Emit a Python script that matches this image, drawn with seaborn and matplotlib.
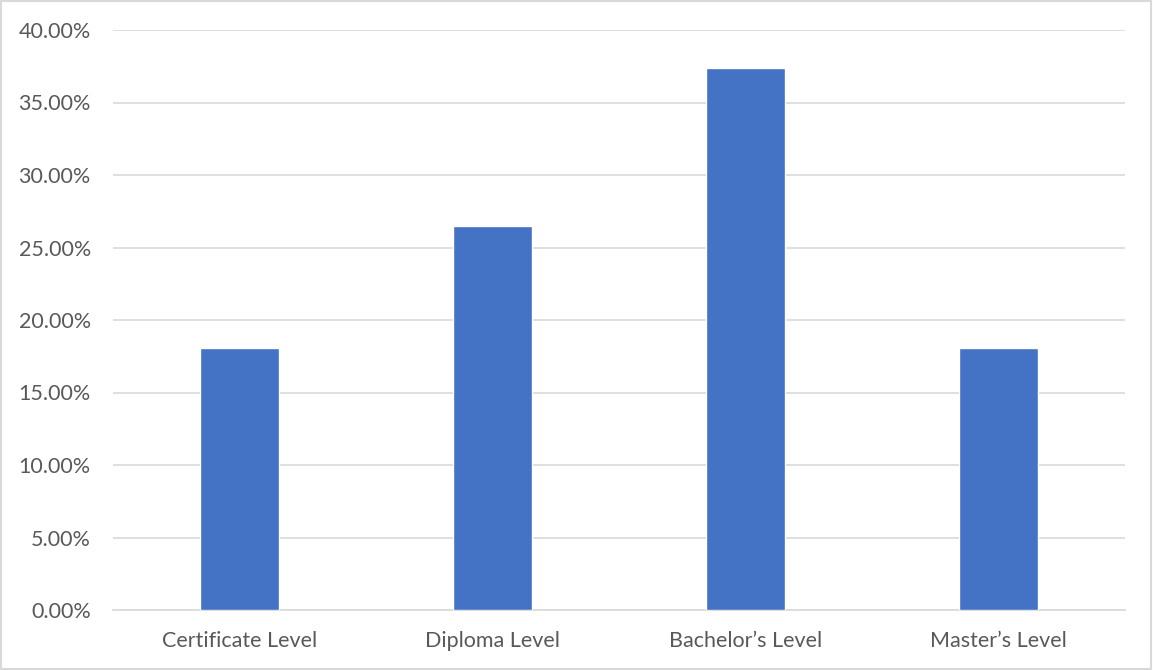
import matplotlib
matplotlib.use("Agg")
import matplotlib.pyplot as plt
from matplotlib.ticker import PercentFormatter, MultipleLocator
from matplotlib.patches import Rectangle
import seaborn as sns
import pandas as pd

# Share of respondents by highest qualification
levels = ["Certificate Level", "Diploma Level", "Bachelor\u2019s Level", "Master\u2019s Level"]
shares = [18.07, 26.51, 37.35, 18.07]

df = pd.DataFrame({"level": levels, "share": shares})

sns.set_theme(style="white")
plt.rcParams["font.family"] = ["Lato", "DejaVu Sans"]

fig = plt.figure(figsize=(11.53, 6.70), dpi=100)
ax = fig.add_axes([113 / 1153, 1 - 610 / 670, (1125 - 113) / 1153, 580 / 670])

sns.barplot(data=df, x="level", y="share", color="#4472C4", saturation=1,
            width=0.31, ax=ax, zorder=3)

ax.set_ylim(0, 40)
ax.set_xlim(-0.5, 3.5)
ax.yaxis.set_major_locator(MultipleLocator(5))
ax.yaxis.set_major_formatter(PercentFormatter(decimals=2))
ax.grid(axis="y", color="#D9D9D9", linewidth=1.2, zorder=0)
ax.set_axisbelow(True)
for side in ["left", "right", "top"]:
    ax.spines[side].set_visible(False)
ax.spines["bottom"].set_color("#D9D9D9")
ax.spines["bottom"].set_linewidth(1.2)
ax.set_xlabel("")
ax.set_ylabel("")
ax.tick_params(axis="both", length=0, labelsize=15.5, colors="#595959")
ax.tick_params(axis="y", pad=16)
ax.tick_params(axis="x", pad=15)

# thin outline around the chart area
fig.add_artist(Rectangle((0.001, 0.002), 0.997, 0.996, transform=fig.transFigure,
                         fill=False, edgecolor="#D9D9D9", linewidth=1.5))

fig.savefig("out.png", dpi=100)
